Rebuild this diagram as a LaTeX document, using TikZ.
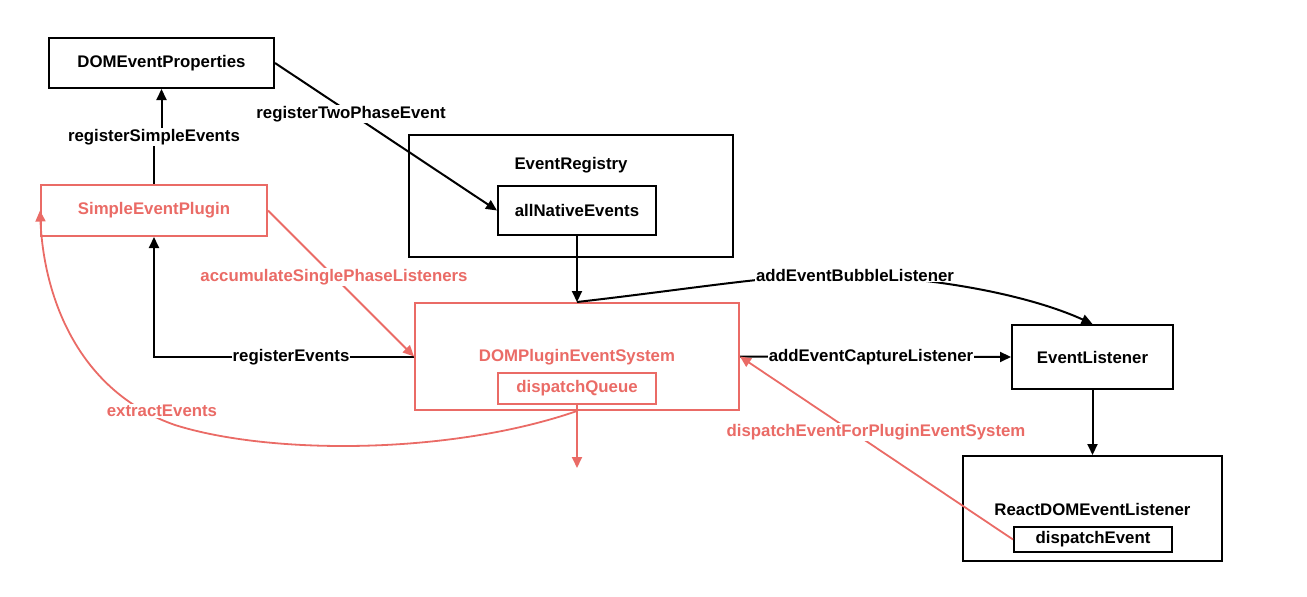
\documentclass[tikz,border=0pt]{standalone}
\usepackage{fontspec}
\setmainfont{Liberation Sans}
\usetikzlibrary{arrows.meta}
\definecolor{rd}{HTML}{EA6B66}
\begin{document}
\begin{tikzpicture}[x=1pt,y=-1pt,
  txt/.style={font=\bfseries\fontsize{16.8}{19}\selectfont},
  box/.style={txt, draw=black, line width=2pt, inner sep=0pt},
  rbox/.style={txt, draw=rd, text=rd, line width=2pt, inner sep=0pt},
  arr/.style={draw=black, line width=2pt, -{Triangle[length=11pt,width=10pt]}},
  rarr/.style={draw=rd, line width=1.8pt, -{Triangle[length=11pt,width=10pt]}},
  lbl/.style={txt, fill=white, inner sep=1pt},
  rlbl/.style={lbl, text=rd}]
\useasboundingbox (0,0) rectangle (1307,597);

% boxes
\node[box, minimum width=225, minimum height=50] (dep) at (161.5,63) {DOMEventProperties};
\node[rbox, minimum width=226, minimum height=51] (sep) at (154,210.5) {SimpleEventPlugin};
\node[box, minimum width=324, minimum height=122] (er) at (571,196) {};
\node[txt] (ert) at (571,165) {EventRegistry};
\node[box, minimum width=158, minimum height=49] (ane) at (577,210.5) {allNativeEvents};
\node[rbox, minimum width=324, minimum height=107] (dpes) at (577,356.5) {};
\node[txt, text=rd] (dpest) at (577,357) {DOMPluginEventSystem};
\node[rbox, minimum width=158, minimum height=31] (dq) at (577,388.5) {dispatchQueue};
\node[box, minimum width=161, minimum height=64] (el) at (1092.5,357) {EventListener};
\node[box, minimum width=259, minimum height=105] (rdel) at (1092.5,508.5) {};
\node[txt] (rdelt) at (1092.5,509) {ReactDOMEventListener};
\node[box, minimum width=158, minimum height=25] (de) at (1093,539.5) {dispatchEvent};

% connectors
\coordinate (j1) at (154,137);
\draw[arr] (sep.north) -- (j1) -- (j1 -| dep.south) -- (dep.south);
\draw[arr] (dep.east) -- (ane.west);
\draw[arr] (ane.south) -- (dpes.north);
\coordinate (bub) at (855,275);
\draw[arr] (dpes.north) .. controls (700,288) and (790,272) .. (bub)
  .. controls (960,280) and (1040,300) .. (el.north);
\draw[arr] (dpes.east) -- (el.west);
\draw[arr] (el.south) -- (rdel.north);
\draw[arr] (dpes.west) -| (sep.south);
\draw[rarr] (de.west) -- (dpes.east);
\draw[rarr] (sep.east) -- (dpes.west);
\coordinate (qend) at (577,468);
\draw[rarr] (dq.south) -- (qend);
\coordinate (ex) at (175,425);
\draw[rarr] (dpes.south) .. controls (450,455) and (270,455) .. (ex)
  .. controls (80,392) and (44,300) .. (sep.west);

% labels
\node[lbl] (l1) at (154,137) {registerSimpleEvents};
\node[lbl] (l2) at (351,114) {registerTwoPhaseEvent};
\node[rlbl] (l3) at (334,277) {accumulateSinglePhaseListeners};
\node[lbl] (l4) at (291,357) {registerEvents};
\node[rlbl] (l5) at (162,411) {extractEvents};
\node[lbl] (l6) at (855,275) {addEventBubbleListener};
\node[lbl] (l7) at (871,357) {addEventCaptureListener};
\node[rlbl] (l8) at (876,432) {dispatchEventForPluginEventSystem};
\end{tikzpicture}
\end{document}
